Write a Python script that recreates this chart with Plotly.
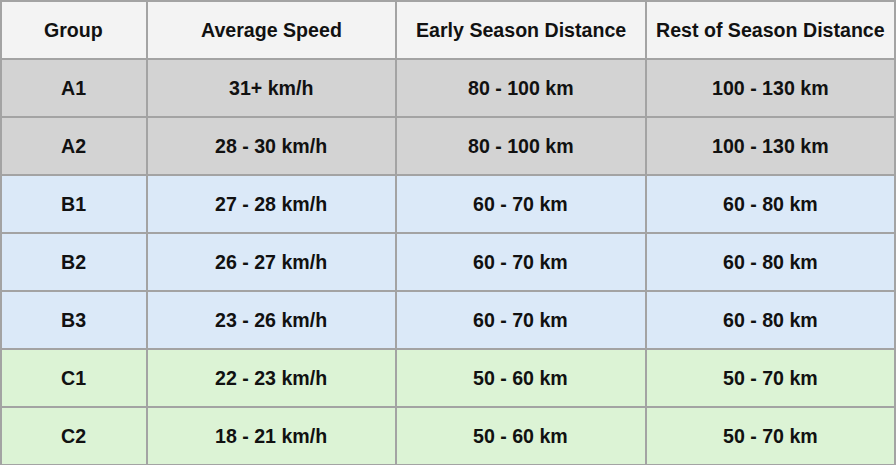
import plotly.graph_objects as go

header = ['Group', 'Average Speed', 'Early Season Distance', 'Rest of Season Distance']
groups = ['A1', 'A2', 'B1', 'B2', 'B3', 'C1', 'C2']
speeds = ['31+ km/h', '28 - 30 km/h', '27 - 28 km/h', '26 - 27 km/h', '23 - 26 km/h',
          '22 - 23 km/h', '18 - 21 km/h']
early = ['80 - 100 km', '80 - 100 km', '60 - 70 km', '60 - 70 km', '60 - 70 km',
         '50 - 60 km', '50 - 60 km']
rest = ['100 - 130 km', '100 - 130 km', '60 - 80 km', '60 - 80 km', '60 - 80 km',
        '50 - 70 km', '50 - 70 km']
col_widths = [146, 250, 250, 250]

# row colours by group letter
tier_colors = {'A': '#d3d3d3', 'B': '#dbe9f8', 'C': '#dcf3d5'}
row_colors = [tier_colors[g[0]] for g in groups]

columns = [groups, speeds, early, rest]
n_rows = len(groups) + 1  # header + body
row_h = 58
line = dict(color='#a3a3a3', width=2)

# table draws the fills and grid; text goes on top as annotations so it is centred vertically
fig = go.Figure(go.Table(
    columnwidth=col_widths,
    header=dict(values=[''] * len(header), fill_color='#f3f3f3', line=line, height=row_h),
    cells=dict(values=[[''] * len(groups) for _ in columns],
               fill_color=[row_colors] * len(columns), line=line, height=row_h),
    domain=dict(x=[0, 1], y=[0, 1]),
))

font = dict(family='Liberation Sans, Arial, sans-serif', size=19.6, color='#111111')
total_w = float(sum(col_widths))
left = 0
for j, w in enumerate(col_widths):
    xc = (left + w / 2.0) / total_w
    left += w
    texts = [header[j]] + columns[j]
    for i, t in enumerate(texts):
        fig.add_annotation(x=xc, y=1 - (i + 0.5) / n_rows, xref='paper', yref='paper',
                           text='<b>%s</b>' % t, showarrow=False, font=font,
                           xanchor='center', yanchor='middle')

fig.update_layout(width=896, height=466, margin=dict(l=1, r=1, t=1, b=1),
                  paper_bgcolor='white')

fig.write_html("out.html", config={'displayModeBar': False},
               post_script="document.body.style.margin='0';")
